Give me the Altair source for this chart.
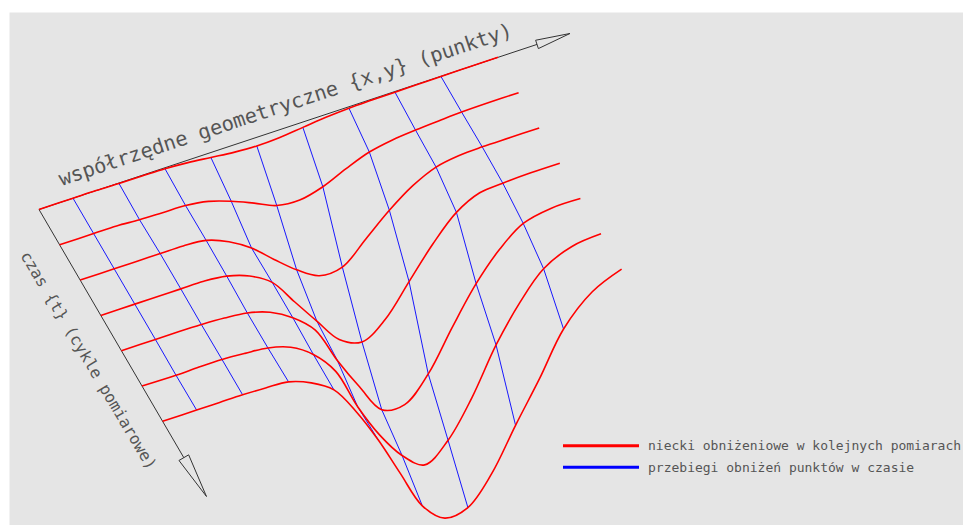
import altair as alt
import pandas as pd
import math

# ---------------- data ----------------
# positions along the profile (point axis), in drawing units
S = [0, 34, 57, 80, 103, 126, 149, 172, 195, 218, 241, 264, 287, 310, 333, 356, 379, 402, 430, 459]
# indices of S that are the surveyed points (blue lines)
POINT_IDX = [1, 3, 5, 7, 9, 11, 13, 15, 17]
# subsidence (drawing units, downward) of each measurement cycle t = 0..6
W0 = [0, 0, 0, 0.5, 0.7, 1, 2.5, 5, 7.5, 8.7, 7.8, 5.4, 3, 1.5, 1, 0.7, 0.5, 0.3, 0, 0]
W1 = [0, 0, 0, 1.5, 2, 2.5, 6, 13.5, 23, 33, 35.2, 29.5, 19, 10, 5.5, 3.3, 1.8, 0.5, 0, 0]
W2 = [0, 0, 0, 0, 0, 2, 11, 25, 44, 62, 75.5, 74.5, 54, 33, 16, 5, 1, 0, 0, 0]
W3 = [0, 0, 0, 0, 0, 2.5, 10, 24, 51, 78, 104, 114, 99, 69, 39, 15, 3, 1, 0, 0]
W4 = [0, 0, 0, 0.4, 1.5, 4, 11, 24, 44, 82, 116, 146.5, 149, 126, 87, 51, 24, 6, 0, 0]
W5 = [0, 0.5, 0, 0, 1.5, 3.7, 10.7, 25.5, 50, 93, 129, 157, 174, 157, 122, 77, 42, 16, 3, 0]
W6 = [0, 0, 0, 0, 0.8, 2.3, 11, 25.6, 55, 91, 132, 172, 192, 189, 163, 122, 83, 41, 13, 0]
CYCLES = [W0, W1, W2, W3, W4, W5, W6]

TOP_LABEL = "współrzędne geometryczne {x,y}  (punkty)"
TIME_LABEL = "czas {t} (cykle pomiarowe)"
LEGEND_LABELS = ["niecki obniżeniowe w kolejnych pomiarach", "przebiegi obniżeń punktów w czasie"]
LEGEND_COLORS = ["#ff0000", "#0000ff"]

# ---------------- oblique projection of the drawing ----------------
OX, OY = 39.0, 209.5      # origin of both axes
SLOPE = 0.3315            # rise of the point axis
DTX, DTY = 20.6, 35.3     # shift per measurement cycle
TILT = 0.025              # slight lean of the subsidence direction


def proj(s, t, w=0.0):
    return OX + s - TILT * w + DTX * t, OY - SLOPE * s + DTY * t + w


rows = []
for t, W in enumerate(CYCLES):
    for k, (s, w) in enumerate(zip(S, W)):
        x, y = proj(s, t, w)
        rows.append({"curve": t, "k": k, "x": x, "y": y})
red_df = pd.DataFrame(rows)

rows = []
for i in POINT_IDX:
    for t, W in enumerate(CYCLES):
        x, y = proj(S[i], t, W[i])
        rows.append({"pt": i, "k": t, "x": x, "y": y})
blue_df = pd.DataFrame(rows)

# axes with hollow arrow heads
S_BASE, S_TIP, S_HALF = 498.0, 531.0, 4.4
T_BASE, T_TIP, T_HALF = 7.03, 8.13, 5.6
rows = []


def add(seg, pts):
    for k, (x, y) in enumerate(pts):
        rows.append({"seg": seg, "k": k, "x": x, "y": y})


def head(base, tip, half):
    dx, dy = tip[0] - base[0], tip[1] - base[1]
    L = math.hypot(dx, dy)
    px, py = -dy / L * half, dx / L * half
    a = (base[0] + px, base[1] + py)
    b = (base[0] - px, base[1] - py)
    return [a, tip, b, a]


o = proj(0, 0)
sb = proj(S_BASE, 0)
st = proj(S_TIP, 0)
tb = proj(0, T_BASE)
tt = proj(0, T_TIP)
add("s_shaft", [o, sb])
add("t_shaft", [o, tb])
add("s_head", head(sb, st, S_HALF))
add("t_head", head(tb, tt, T_HALF))
axes_df = pd.DataFrame(rows)

leg_df = pd.DataFrame({
    "x": [563, 563], "x2": [639, 639], "y": [445.7, 467.3],
    "tx": [648, 648], "ty": [450.3, 471.8],
    "label": LEGEND_LABELS, "col": LEGEND_COLORS,
})
top_df = pd.DataFrame({"x": [61.5], "y": [186.0], "label": [TOP_LABEL]})
time_df = pd.DataFrame({"x": [20.0], "y": [255.5], "label": [TIME_LABEL]})

# ---------------- chart ----------------
XS = alt.Scale(domain=[9, 963], nice=False, zero=False)
YS = alt.Scale(domain=[12, 525], nice=False, zero=False, reverse=True)
X = alt.X("x:Q", scale=XS, axis=None)
Y = alt.Y("y:Q", scale=YS, axis=None)
TXT = "#555555"

axes = alt.Chart(axes_df).mark_line(color="#333333", strokeWidth=1).encode(
    X, Y, detail="seg:N", order="k:Q")
blue = alt.Chart(blue_df).mark_line(color="#0000ff", strokeWidth=0.9).encode(
    X, Y, detail="pt:N", order="k:Q")
red = alt.Chart(red_df).mark_line(color="#ff0000", strokeWidth=1.6, interpolate="catmull-rom").encode(
    X, Y, detail="curve:N", order="k:Q")

leg_lines = alt.Chart(leg_df).mark_rule(strokeWidth=3).encode(
    x=X, x2="x2:Q", y=Y, color=alt.Color("col:N", scale=None))
leg_text = alt.Chart(leg_df).mark_text(
    align="left", baseline="alphabetic", font="DejaVu Sans Mono", fontSize=13, color=TXT
).encode(x=alt.X("tx:Q", scale=XS, axis=None), y=alt.Y("ty:Q", scale=YS, axis=None), text="label:N")

top_text = alt.Chart(top_df).mark_text(
    align="left", baseline="alphabetic", font="DejaVu Sans Mono", fontSize=20.3,
    angle=341.66, color=TXT
).encode(X, Y, text="label:N")
time_text = alt.Chart(time_df).mark_text(
    align="left", baseline="alphabetic", font="DejaVu Sans Mono", fontSize=16.0,
    angle=59.3, color=TXT
).encode(X, Y, text="label:N")

chart = alt.layer(axes, blue, red, leg_lines, leg_text, top_text, time_text).properties(
    width=954, height=513,
    padding={"left": 1, "top": 4, "right": 0, "bottom": 0},
    autosize=alt.AutoSizeParams(type="none"),
    background="white",
).configure_view(stroke="transparent", fill="#e5e5e5")

chart.save("out.html", embed_options={"renderer": "svg", "actions": False})
